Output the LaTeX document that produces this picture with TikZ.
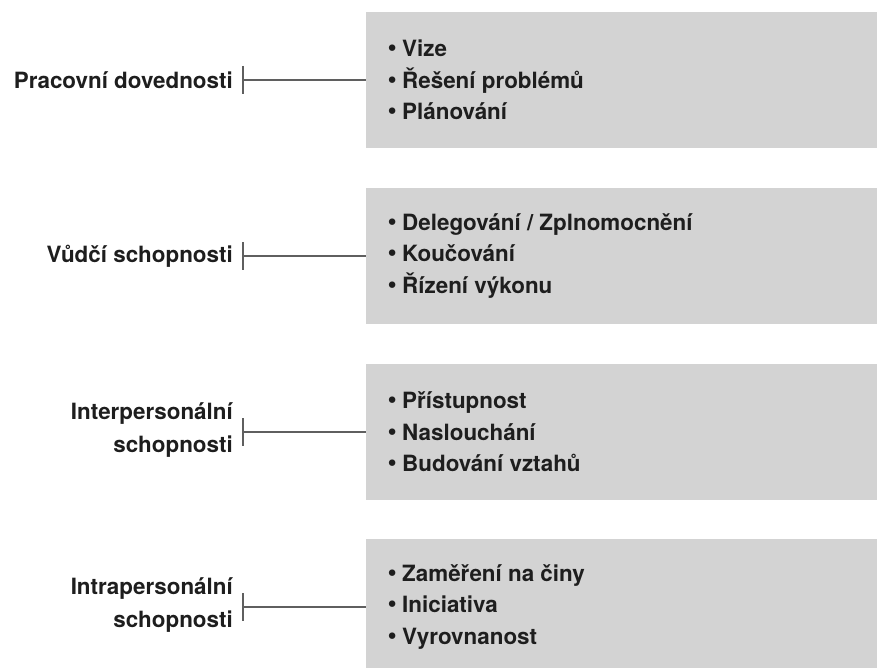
\documentclass[tikz,border=0pt]{standalone}
\usepackage{fontspec}
\setmainfont{TeX Gyre Heros}
\newfontfamily\bulletfont{DejaVu Sans}
\newcommand\blt{\makebox[14pt][l]{\hspace{-2.5pt}{\bulletfont\mdseries •}}}
\definecolor{boxgray}{HTML}{D3D3D3}
\definecolor{txt}{HTML}{1E1E1E}
\definecolor{linegray}{HTML}{5F5F5F}
\begin{document}
\begin{tikzpicture}[x=1pt,y=-1pt,
  panel/.style={fill=boxgray, draw=none, minimum width=520pt, minimum height=136pt, anchor=west, inner sep=0pt, outer sep=0pt},
  itemtext/.style={anchor=west, align=left, inner sep=0pt, text=txt, font=\bfseries\fontsize{22.4}{31.5}\selectfont},
  catlabel/.style={anchor=east, align=right, inner sep=0pt, text=txt, font=\bfseries\fontsize{22.4}{33.5}\selectfont},
  conn/.style={draw=linegray, line width=2.2pt}]
\useasboundingbox (0,0) rectangle (877,668);
\begin{scope}
\clip (0,0) rectangle (877,668);
% boxes
\node[panel] (b1) at (366,80) {};
\node[panel] (b2) at (366,256) {};
\node[panel] (b3) at (366,432) {};
\node[panel] (b4) at (366,607) {};
\end{scope}
% item texts
\node[itemtext] (t1) at (388,80) {\blt Vize\\\blt Řešení problémů\\\blt Plánování};
\node[itemtext] (t2) at (388,256) {\blt Delegování / Zplnomocnění\\\blt Koučování\\\blt Řízení výkonu};
\node[itemtext] (t3) at (388,432) {\blt Přístupnost\\\blt Naslouchání\\\blt Budování vztahů};
\node[itemtext] (t4) at (388,607) {\blt Zaměření na činy\\\blt Iniciativa\\\blt Vyrovnanost};
% category labels
\node[catlabel] (l1) at (233,80) {Pracovní dovednosti};
\node[catlabel] (l2) at (233,256) {Vůdčí schopnosti};
\node[catlabel] (l3) at (233,430) {Interpersonální\\schopnosti};
\node[catlabel] (l4) at (233,605) {Intrapersonální\\schopnosti};
% connectors
\foreach \i/\y in {1/80,2/256,3/432,4/607}{
  \coordinate (m\i) at (243,\y);
  \coordinate (u\i) at (243,\y-14);
  \coordinate (d\i) at (243,\y+14);
  \draw[conn] (u\i) -- (d\i);
  \draw[conn] (m\i) -- (b\i.west);
}
\end{tikzpicture}
\end{document}
